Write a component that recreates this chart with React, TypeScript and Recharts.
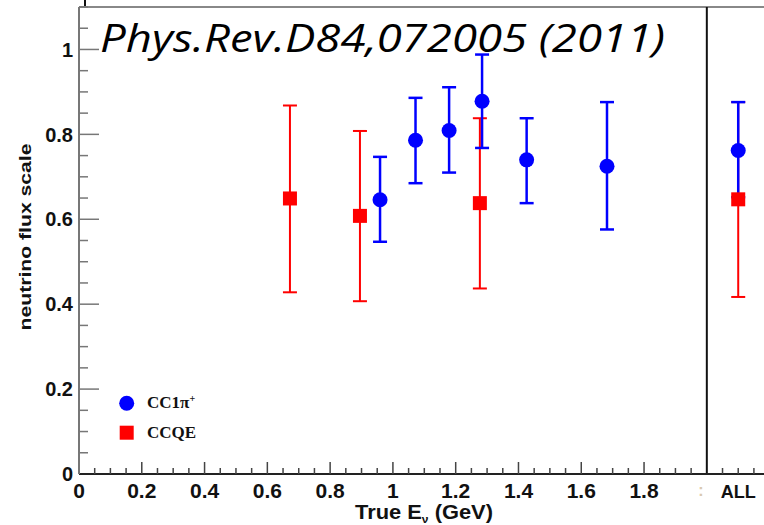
import { ScatterChart, Scatter, XAxis, YAxis, ErrorBar, ReferenceLine, Legend } from 'recharts';

// CCQE (red squares)
const ccqeEnergy = [0.672, 0.895, 1.277, 2.1];
const ccqeScale = [0.649, 0.608, 0.638, 0.647];
const ccqeErrLow = [0.221, 0.201, 0.201, 0.23];
const ccqeErrHigh = [0.219, 0.2, 0.2, 0.229];

// CC1pi+ (blue circles)
const cc1piEnergy = [0.959, 1.072, 1.179, 1.284, 1.426, 1.682, 2.1];
const cc1piScale = [0.646, 0.786, 0.809, 0.878, 0.74, 0.725, 0.762];
const cc1piErrLow = [0.099, 0.101, 0.099, 0.11, 0.102, 0.149, 0.11];
const cc1piErrHigh = [0.101, 0.1, 0.102, 0.11, 0.098, 0.151, 0.114];

const xMajorTicks = [0, 0.2, 0.4, 0.6, 0.8, 1, 1.2, 1.4, 1.6, 1.8];
const xMajorLabels = ['0', '0.2', '0.4', '0.6', '0.8', '1', '1.2', '1.4', '1.6', '1.8'];
const allPosition = 2.1;
const allLabel = 'ALL';
const yMajorTicks = [0, 0.2, 0.4, 0.6, 0.8, 1];
const yMajorLabels = ['0', '0.2', '0.4', '0.6', '0.8', '1'];

const seriesNames = ['CC1π', 'CCQE'];

const ccqeData = ccqeEnergy.map((x, i) => ({ x, y: ccqeScale[i], err: [ccqeErrLow[i], ccqeErrHigh[i]] }));
const cc1piData = cc1piEnergy.map((x, i) => ({ x, y: cc1piScale[i], err: [cc1piErrLow[i], cc1piErrHigh[i]] }));

// minor tick positions every 0.05
const xTicks = Array.from({ length: 47 }, (_, i) => Math.round(i * 5) / 100);
const yTicks = Array.from({ length: 23 }, (_, i) => Math.round(i * 5) / 100);

const near = (a: number, b: number) => Math.abs(a - b) < 1e-6;
const axisFont = { fontFamily: 'Liberation Sans, Arial, sans-serif', fontWeight: 'bold' as const };

const XTick = (props: any) => {
  const { x, y, payload } = props;
  const v = payload.value;
  const idx = xMajorTicks.findIndex((t) => near(t, v));
  let label = idx >= 0 ? xMajorLabels[idx] : '';
  if (near(v, allPosition)) label = allLabel;
  return (
    <g>
      {v > 0 && !near(v, 2) && (
        <line x1={x} x2={x} y1={y} y2={y - (idx >= 0 ? 12 : 6)} stroke="#444" strokeWidth={1.5} />
      )}
      {label && (
        <text x={x} y={y + 24} textAnchor="middle" fontSize={label === allLabel ? 18 : 21} fill="#111" style={axisFont}>
          {label}
        </text>
      )}
      {near(v, 2) && (
        <text x={x - 6} y={y + 22} textAnchor="middle" fontSize={16} fill="#d9c9b0" style={axisFont}>
          :
        </text>
      )}
    </g>
  );
};

const YTick = (props: any) => {
  const { x, y, payload } = props;
  const v = payload.value;
  const idx = yMajorTicks.findIndex((t) => near(t, v));
  return (
    <g>
      {v > 0 && <line x1={x} x2={x + (idx >= 0 ? 20 : 9)} y1={y} y2={y} stroke="#777" strokeWidth={1.5} />}
      {idx >= 0 && (
        <text x={x - 6} y={y} dy="0.36em" textAnchor="end" fontSize={20} fill="#111" style={axisFont}>
          {yMajorLabels[idx]}
        </text>
      )}
    </g>
  );
};

const XLabel = (props: any) => {
  const vb = props.viewBox;
  return (
    <text x={vb.x + 276} y={vb.y + 45} fontSize={20} fill="#111" textLength={138} lengthAdjust="spacingAndGlyphs" style={axisFont}>
      True E<tspan fontSize={11} dy={4}>ν</tspan>
      <tspan dy={-4}> (GeV)</tspan>
    </text>
  );
};

const YLabel = (props: any) => {
  const vb = props.viewBox;
  const cx = 25;
  const cy = vb.y + 230;
  return (
    <text
      x={cx}
      y={cy}
      transform={`rotate(-90 ${cx} ${cy})`}
      textAnchor="middle"
      dy="0.36em"
      fontSize={16}
      fill="#111"
      textLength={187}
      lengthAdjust="spacingAndGlyphs"
      style={axisFont}
    >
      neutrino flux scale
    </text>
  );
};

const LegendBox = () => (
  <svg width={120} height={60}>
    <circle cx={16.7} cy={15.3} r={7.5} fill="#0000ff" />
    <text x={37} y={20} fontSize={17} fontFamily="Liberation Serif, Times New Roman, serif" fontWeight="bold" fill="#111">
      {seriesNames[0]}
      <tspan fontSize={10} dy={-6}>+</tspan>
    </text>
    <rect x={9.7} y={37.7} width={14} height={14} fill="#ff0000" />
    <text x={37} y={50} fontSize={17} fontFamily="Liberation Serif, Times New Roman, serif" fontWeight="bold" fill="#111">
      {seriesNames[1]}
    </text>
  </svg>
);

const Circle = (props: any) => <circle cx={props.cx} cy={props.cy} r={7.5} fill="#0000ff" />;
const Square = (props: any) => <rect x={props.cx - 7} y={props.cy - 7} width={14} height={14} fill="#ff0000" />;

export default function App() {
  return (
    <div
      style={{
        position: 'absolute',
        left: 0,
        top: 0,
        width: 764,
        height: 525,
        overflow: 'hidden',
        background: '#fff',
      }}
    >
      <ScatterChart width={801} height={525} margin={{ top: 7, right: 0, bottom: 0, left: 0 }}>
        <XAxis
          dataKey="x"
          type="number"
          domain={[0, 2.3]}
          ticks={xTicks}
          interval={0}
          tickSize={0}
          tickMargin={0}
          tickLine={false}
          height={51}
          axisLine={{ stroke: '#222', strokeWidth: 2 }}
          tick={XTick}
          label={XLabel}
          allowDataOverflow
        />
        <YAxis
          dataKey="y"
          type="number"
          domain={[0, 1.1]}
          ticks={yTicks}
          interval={0}
          tickSize={0}
          tickMargin={0}
          tickLine={false}
          width={79}
          axisLine={{ stroke: '#777', strokeWidth: 2 }}
          tick={YTick}
          label={YLabel}
          allowDataOverflow
        />
        <ReferenceLine y={1.1} stroke="#888" strokeWidth={2} />
        <ReferenceLine x={2} stroke="#111" strokeWidth={2} />
        <Legend
          layout="vertical"
          align="center"
          verticalAlign="middle"
          content={LegendBox}
          wrapperStyle={{ left: 110, top: 388, width: 120 }}
        />
        <Scatter name="CCQE" data={ccqeData} shape={Square} isAnimationActive={false}>
          <ErrorBar dataKey="err" direction="y" width={7} stroke="#ff0000" strokeWidth={2} isAnimationActive={false} />
        </Scatter>
        <Scatter name="CC1π+" data={cc1piData} shape={Circle} isAnimationActive={false}>
          <ErrorBar dataKey="err" direction="y" width={7} stroke="#0000ff" strokeWidth={2.5} isAnimationActive={false} />
        </Scatter>
      </ScatterChart>
      <svg width={764} height={75} style={{ position: 'absolute', left: 0, top: 0, pointerEvents: 'none' }}>
        <rect x={84} y={0} width={2} height={6} fill="#111" />
        <text
          x={100}
          y={52}
          fontSize={39}
          fontStyle="italic"
          fontFamily="Open Sans, DejaVu Sans, sans-serif"
          fill="#000"
          textLength={565}
          lengthAdjust="spacingAndGlyphs"
        >
          Phys.Rev.D84,072005 (2011)
        </text>
      </svg>
    </div>
  );
}
